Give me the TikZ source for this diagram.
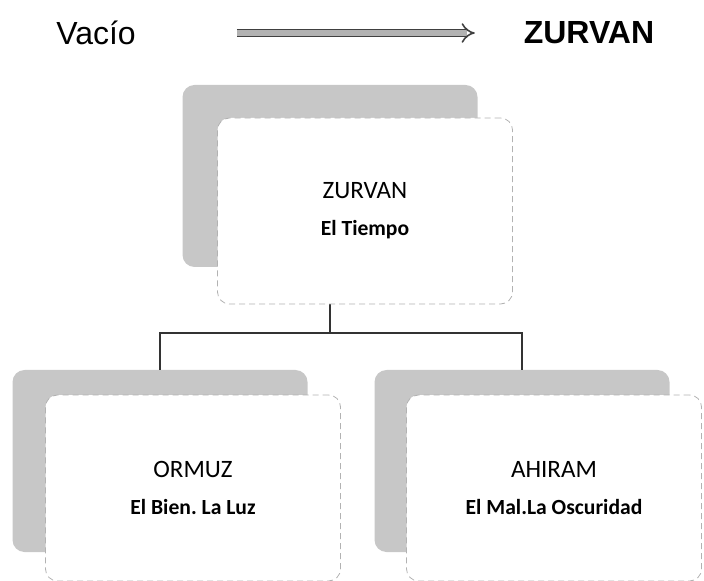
\documentclass[tikz,border=0pt]{standalone}
\usepackage{fontspec}
\setmainfont{Carlito}
\newfontfamily\arialfont{Liberation Sans}
\usepackage{tikz}
\usetikzlibrary{arrows.meta,positioning}
\newcommand{\cabeza}[1]{{\fontsize{12.5}{18.5}\selectfont #1}}

\begin{document}
\frenchspacing
\begin{tikzpicture}[x=0.5pt,y=-0.5pt,
    sombra/.style={rounded corners=6pt,fill=black!22,minimum width=147.5pt,minimum height=91pt,inner sep=0pt},
    frente/.style={rounded corners=6pt,fill=white,draw=black!30,densely dashed,line width=0.4pt,
                   minimum width=147.5pt,minimum height=93pt,align=center,font=\fontsize{10.8}{18.5}\selectfont},
    titulo/.style={font=\arialfont\fontsize{16}{19}\selectfont},
    rama/.style={draw=black!80,line width=0.8pt},
  ]
  \useasboundingbox (0,0) rectangle (704,581);

  \node[titulo] (vacio) at (96,33) {Vacío};
  \node[titulo,font=\arialfont\bfseries\fontsize{16}{19}\selectfont] (zurvanTit) at (589,33) {ZURVAN};
  \draw[double=black!30,double distance=2.6pt,line width=0.8pt,draw=black!75,-{Implies},
        shorten <=47pt,shorten >=21pt] (vacio) -- (zurvanTit);

  \node[sombra] (zurvan) at (330,176) { };
  \node[sombra] (ormuz) at (160,461) { };
  \node[sombra] (ahiram) at (522,461) { };

% connectors go behind the front boxes
  \coordinate (cruce) at (330,333);
  \draw[rama] (zurvan.south) -- (cruce) -| (ormuz.north);
  \draw[rama] (cruce) -| (ahiram.north);

  \node[frente,xshift=17.5pt,yshift=-17.5pt] (zurvanTxt) at (zurvan) {\cabeza{ZURVAN}\\\textbf{El Tiempo}};
  \node[frente,xshift=16.5pt,yshift=-13.5pt] (ormuzTxt) at (ormuz) {\cabeza{ORMUZ}\\\textbf{El Bien. La Luz}};
  \node[frente,xshift=16pt,yshift=-13.5pt] (ahiramTxt) at (ahiram) {\cabeza{AHIRAM}\\\textbf{El Mal.La Oscuridad}};
\end{tikzpicture}
\end{document}
